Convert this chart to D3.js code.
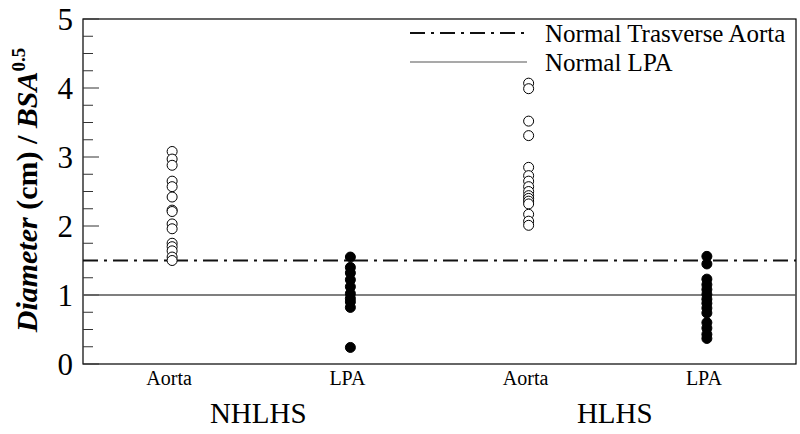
<!DOCTYPE html>
<html><head><meta charset="utf-8">
<script src="https://cdn.jsdelivr.net/npm/d3@7"></script>
<style>body{margin:0;background:#fff;} svg{display:block;}</style>
</head><body>
<svg id="chart" width="800" height="434"></svg>
<script>
const categories = ["Aorta", "LPA", "Aorta", "LPA"];
const groups = ["NHLHS", "HLHS"];
const nhlhsAorta = [3.08, 2.97, 2.88, 2.65, 2.57, 2.42, 2.23, 2.21, 2.03, 1.96, 1.75, 1.70, 1.64, 1.55, 1.50];
const nhlhsLPA = [1.55, 1.40, 1.32, 1.22, 1.12, 1.02, 0.95, 0.90, 0.82, 0.24];
const hlhsAorta = [4.07, 3.99, 3.52, 3.31, 2.85, 2.73, 2.65, 2.57, 2.50, 2.44, 2.40, 2.36, 2.32, 2.17, 2.07, 2.01];
const hlhsLPA = [1.56, 1.45, 1.23, 1.15, 1.08, 1.01, 0.94, 0.88, 0.81, 0.74, 0.60, 0.52, 0.43, 0.37];
const yTicks = [0, 1, 2, 3, 4, 5];
const normalAorta = 1.5;
const normalLPA = 1.0;
const legendLabels = ["Normal Trasverse Aorta", "Normal LPA"];

const series = [
  {col: 0, values: nhlhsAorta, filled: false},
  {col: 1, values: nhlhsLPA, filled: true},
  {col: 2, values: hlhsAorta, filled: false},
  {col: 3, values: hlhsLPA, filled: true}
];

const svg = d3.select("#chart");
const L = 83, R = 796, T = 19, B = 364;
const x = d3.scalePoint().domain(d3.range(categories.length)).range([L, R]).padding(0.5);
const y = d3.scaleLinear().domain([0, 5]).range([B, T]);
const serif = "'Liberation Serif','Times New Roman',serif";

// frame
svg.append("rect").attr("x", L).attr("y", T).attr("width", R - L).attr("height", B - T)
  .attr("fill", "none").attr("stroke", "#000").attr("stroke-width", 1.2);

// y ticks (inward)
const minor = d3.range(0, 5.0001, 0.25);
svg.append("g").selectAll("line").data(minor).join("line")
  .attr("x1", L).attr("x2", d => L + (Math.abs(d - Math.round(d)) < 1e-6 ? 16 : 10))
  .attr("y1", d => y(d)).attr("y2", d => y(d))
  .attr("stroke", "#333").attr("stroke-width", 1);
svg.append("g").selectAll("text").data(yTicks).join("text")
  .attr("x", 73).attr("y", d => y(d)).attr("dy", "0.35em")
  .attr("text-anchor", "end").attr("font-family", serif).attr("font-size", 31)
  .text(d => d);

// reference lines
svg.append("line").attr("x1", L).attr("x2", R).attr("y1", y(normalAorta)).attr("y2", y(normalAorta))
  .attr("stroke", "#111").attr("stroke-width", 2).attr("stroke-dasharray", "15,6,3,6");
svg.append("line").attr("x1", L).attr("x2", R).attr("y1", y(normalLPA)).attr("y2", y(normalLPA))
  .attr("stroke", "#555").attr("stroke-width", 1.5);

// points
series.forEach(s => {
  svg.append("g").selectAll("circle").data(s.values).join("circle")
    .attr("cx", x(s.col)).attr("cy", d => y(d)).attr("r", 5)
    .attr("fill", s.filled ? "#000" : "#fff")
    .attr("stroke", "#000").attr("stroke-width", 1);
});

// x tick labels
svg.append("g").selectAll("text").data(categories).join("text")
  .attr("x", (d, i) => x(i) - 3).attr("y", 385)
  .attr("text-anchor", "middle").attr("font-family", serif).attr("font-size", 20)
  .text(d => d);
// group labels
svg.append("g").selectAll("text").data(groups).join("text")
  .attr("x", (d, i) => (x(i * 2) + x(i * 2 + 1)) / 2 - 3).attr("y", 423)
  .attr("text-anchor", "middle").attr("font-family", serif).attr("font-size", 29)
  .text(d => d);

// y title
const yt = svg.append("text").attr("transform", "translate(37,190) rotate(-90)")
  .attr("text-anchor", "middle").attr("font-family", serif).attr("font-size", 30)
  .attr("font-weight", "bold");
yt.append("tspan").attr("font-style", "italic").text("Diameter");
yt.append("tspan").text(" (cm) / ");
yt.append("tspan").attr("font-style", "italic").text("BSA");
yt.append("tspan").attr("font-size", 19).attr("dy", -12).text("0.5");

// legend
const leg = svg.append("g");
leg.append("line").attr("x1", 410).attr("x2", 527).attr("y1", 33).attr("y2", 33)
  .attr("stroke", "#111").attr("stroke-width", 2).attr("stroke-dasharray", "15,6,3,6");
leg.append("line").attr("x1", 410).attr("x2", 527).attr("y1", 62).attr("y2", 62)
  .attr("stroke", "#555").attr("stroke-width", 1.2);
leg.selectAll("text").data(legendLabels).join("text")
  .attr("x", 545).attr("y", (d, i) => 33 + i * 29).attr("dy", "0.35em")
  .attr("font-family", serif).attr("font-size", 25).text(d => d);
</script>
</body></html>
